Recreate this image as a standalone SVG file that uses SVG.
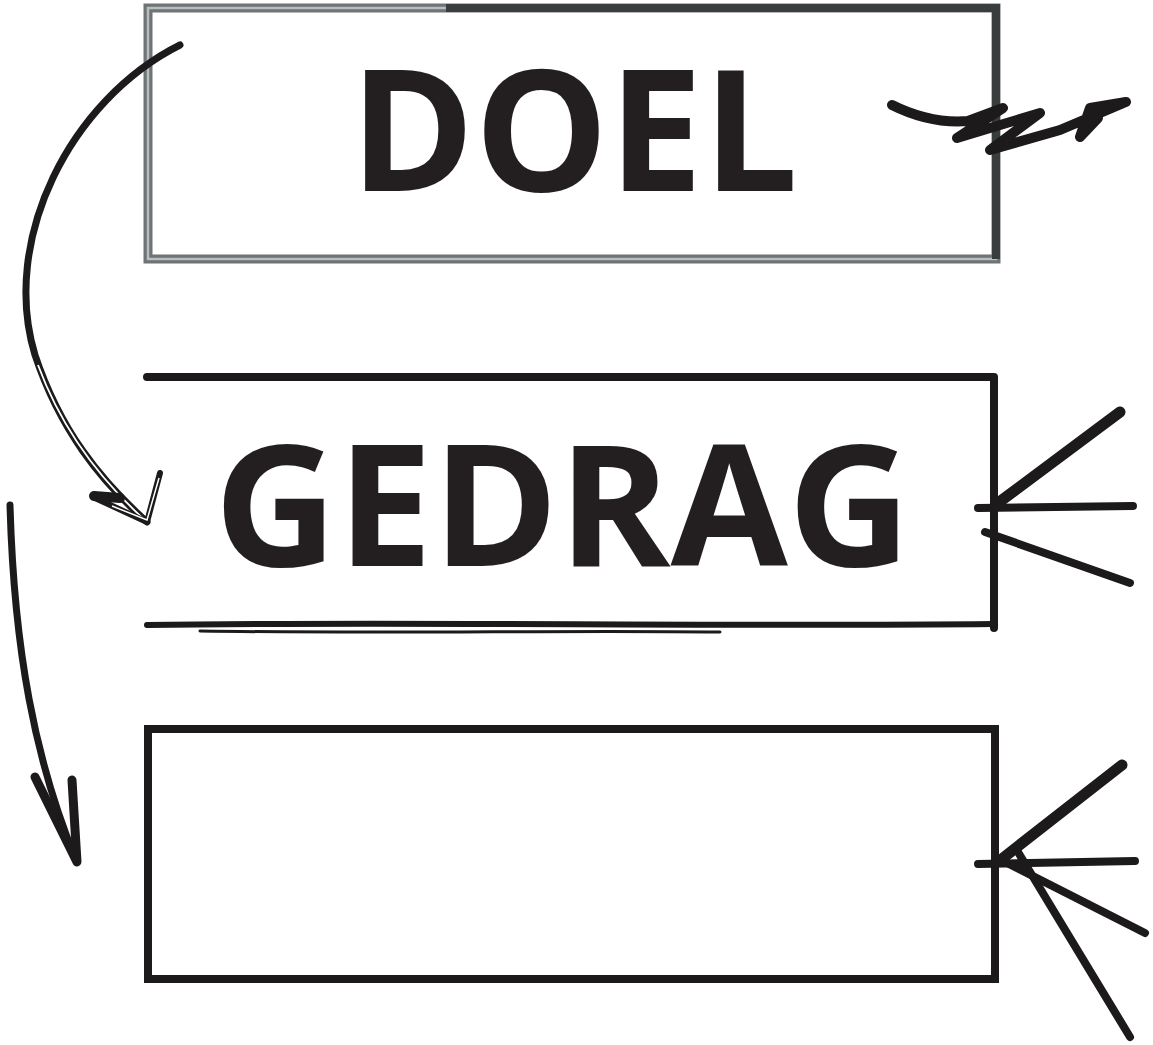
<svg xmlns="http://www.w3.org/2000/svg" width="1153" height="1045" viewBox="0 0 1153 1045">
<style>
.ink{fill:none;stroke:#1c1a1a;stroke-linecap:round;stroke-linejoin:round}
.lbl{font-family:"Open Sans","DejaVu Sans",sans-serif;font-weight:700;font-size:168px;fill:#231f20}
</style>
<rect width="1153" height="1045" fill="#fff"/>
<g id="doel">
<rect x="148" y="8" width="848" height="251" fill="none" stroke="#6e7375" stroke-width="9"/>
<rect x="148" y="8" width="848" height="251" fill="none" stroke="#b9bdbe" stroke-width="2.5"/>
<path d="M446,8 H996 V259" fill="none" stroke="#3a3d3e" stroke-width="8"/>
<text class="lbl" x="350" y="191" textLength="448" lengthAdjust="spacingAndGlyphs">DOEL</text>
</g>
<g id="gedrag">
<path class="ink" d="M147,377 H994 V628" stroke-width="8" stroke-linecap="square"/>
<path class="ink" d="M147,625 C400,621 700,627 994,624" stroke-width="6"/>
<path class="ink" d="M200,631 C400,634 550,630 720,632" stroke-width="3"/>
<text class="lbl" x="214" y="566" textLength="697" lengthAdjust="spacingAndGlyphs">GEDRAG</text>
</g>
<g id="leeg">
<rect x="148" y="729" width="847" height="250" fill="none" stroke="#1c1a1a" stroke-width="8"/>
</g>
<g id="connectors">
<path class="ink" d="M180,45 C70,100 0,240 35,355 C60,430 100,480 147,522" stroke-width="7"/>
<path d="M38,365 C62,430 100,480 147,522" fill="none" stroke="#fff" stroke-width="1.8"/>
<path class="ink" d="M160,473 L147,522 L95,498" stroke="#3a3a3a" stroke-width="6"/>
<path d="M159,478 L147,520 L112,506" fill="none" stroke="#fff" stroke-width="1.5"/>
<path class="ink" d="M94,496 L120,498" stroke-width="10"/>
<path class="ink" d="M10,505 C14,650 35,760 76,860" stroke-width="7"/>
<path class="ink" d="M35,777 L77,862 L72,780" stroke-width="9"/>
<path class="ink" d="M892,105 Q930,124 968,121 L1003,108 L957,138 L1040,113 L990,150 L1060,130 L1126,102 L1090,108 L1080,137 L1098,118" stroke-width="10"/>
<path class="ink" d="M1002,500 L1120,412" stroke-width="11"/>
<path class="ink" d="M978,508 L1133,506" stroke-width="8"/>
<path class="ink" d="M985,532 L1130,583" stroke-width="8"/>
<path class="ink" d="M1003,858 L1122,765" stroke-width="11"/>
<path class="ink" d="M978,864 L1135,861" stroke-width="8"/>
<path class="ink" d="M1005,862 L1145,933" stroke-width="8"/>
<path class="ink" d="M1018,852 L1130,1037" stroke-width="8"/>
</g>
</svg>
